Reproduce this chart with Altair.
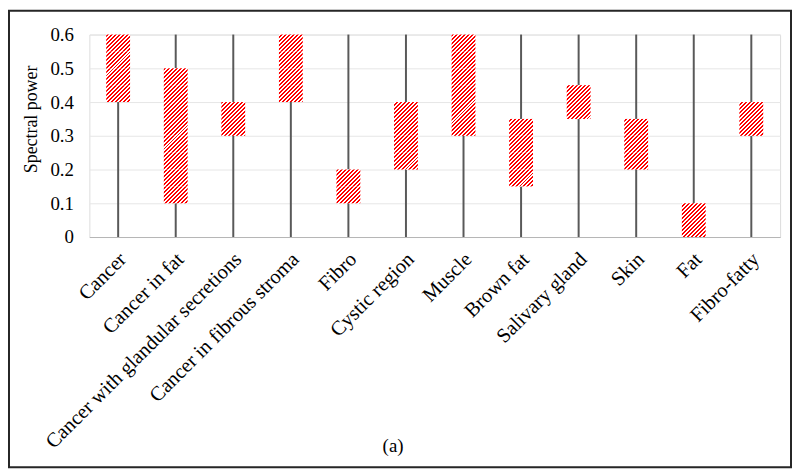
import altair as alt
import pandas as pd

categories = ["Cancer", "Cancer in fat", "Cancer with glandular secretions",
              "Cancer in fibrous stroma", "Fibro", "Cystic region", "Muscle",
              "Brown fat", "Salivary gland", "Skin", "Fat", "Fibro-fatty"]
box_low = [0.40, 0.10, 0.30, 0.40, 0.10, 0.20, 0.30, 0.15, 0.35, 0.20, 0.00, 0.30]
box_high = [0.60, 0.50, 0.40, 0.60, 0.20, 0.40, 0.60, 0.35, 0.45, 0.35, 0.10, 0.40]
line_low = [0, 0, 0, 0, 0, 0, 0, 0, 0, 0, 0, 0]
line_high = [0.6, 0.6, 0.6, 0.6, 0.6, 0.6, 0.6, 0.6, 0.6, 0.6, 0.6, 0.6]
y_ticks = [0, 0.1, 0.2, 0.3, 0.4, 0.5, 0.6]
caption = "(a)"

df = pd.DataFrame({"category": categories, "low": box_low, "high": box_high,
                   "lmin": line_low, "lmax": line_high})

PAD_L, PAD_T = 82, 25
W, H = 696, 204          # 58 px per category, 34 px per 0.1
YMAX = 0.6
BAR_W = 24
RED = "#ff0000"
FONT = "Liberation Serif"
STEP = W / len(categories)

# the hatch fill is painted in short pieces of each box, each with few stripes
SEG = 0.05
seg_rows = []
for i, (c, lo, hi) in enumerate(zip(categories, box_low, box_high)):
    n = int(round((hi - lo) / SEG))
    for j in range(n):
        s0 = round(lo + j * SEG, 4)
        seg_rows.append({"sid": len(seg_rows), "idx": i, "category": c, "s0": s0,
                         "s1": round(s0 + SEG, 4)})
seg_df = pd.DataFrame(seg_rows)


def hatch(h_px, g, w_px=BAR_W, p=4.0, frac=0.5):
    """'/' stripes of period p; g is the x+y offset of the piece's top-left corner."""
    total = w_px + h_px
    q = g % p
    bounds = []
    k = -1
    while k * p - q < total + p:
        r = k * p - q
        for pos, col in ((r, RED), (r + frac * p, "#ffffff")):
            if 0 < pos < total:
                bounds.append((pos, col))
        k += 1
    bounds.sort()
    c0 = RED if q < frac * p else "#ffffff"
    stops = [alt.GradientStop(offset=0, color=c0)]
    cur = c0
    for pos, col in bounds:
        off = round(pos / total, 6)
        stops.append(alt.GradientStop(offset=off, color=cur))
        stops.append(alt.GradientStop(offset=off, color=col))
        cur = col
    stops.append(alt.GradientStop(offset=1, color=cur))
    s = total / (w_px ** 2 + h_px ** 2)
    return alt.LinearGradient(gradient="linear", stops=stops,
                              x1=0, y1=0, x2=round(w_px * s, 6), y2=round(h_px * s, 6))


x_enc = alt.X("category:N", sort=categories,
              scale=alt.Scale(domain=categories, paddingInner=0, paddingOuter=0),
              axis=alt.Axis(title=None, labelAngle=-45, ticks=False,
                            domainColor="#b4b4b4", domainWidth=1,
                            labelFont=FONT, labelFontSize=20.5, labelColor="#000000",
                            labelPadding=12, labelOffset=-2, labelFlush=False,
                            labelLimit=0))
y_scale = alt.Scale(domain=[0, YMAX], nice=False, zero=True)
y_axis = alt.Axis(title="Spectral power", values=y_ticks, format=".1~f",
                  domain=False, ticks=False, grid=True, gridColor="#e6e6e6",
                  gridWidth=1, labelFont=FONT, labelFontSize=19,
                  labelColor="#000000", labelPadding=16,
                  titleFont=FONT, titleFontSize=18, titleFontWeight="normal",
                  titleColor="#000000", titleAngle=270, titleX=-58, titleY=85,
                  titleAlign="center", titleBaseline="middle")

lines = alt.Chart(df).mark_rule(color="#595959", strokeWidth=2).encode(
    x=x_enc,
    y=alt.Y("lmin:Q", scale=y_scale, axis=y_axis),
    y2="lmax:Q",
)

under = alt.Chart(df).mark_bar(size=BAR_W, color="#ffffff", strokeWidth=0).encode(
    x=x_enc, y=alt.Y("low:Q", scale=y_scale, axis=y_axis), y2="high:Q"
)

layers = [lines, under]
seg_px = SEG / YMAX * H
for row in seg_rows:
    x_left = PAD_L + STEP * (row["idx"] + 0.5) - BAR_W / 2
    y_top = PAD_T + (YMAX - row["s1"]) / YMAX * H
    layers.append(
        alt.Chart(seg_df).transform_filter(alt.datum.sid == row["sid"])
        .mark_bar(size=BAR_W, fill=hatch(seg_px, x_left + y_top - 0.5), strokeWidth=0)
        .encode(x=x_enc, y=alt.Y("s0:Q", scale=y_scale, axis=y_axis), y2="s1:Q")
    )

frame = alt.Chart(pd.DataFrame({"k": [0]})).mark_rect(
    filled=False, stroke="#262626", strokeWidth=2
).encode(x=alt.value(-81), x2=alt.value(707), y=alt.value(-24), y2=alt.value(436))
layers.append(frame)

cap = alt.Chart(pd.DataFrame({"t": [caption]})).mark_text(
    font=FONT, fontSize=19, color="#000000", align="center", baseline="middle"
).encode(text="t:N", x=alt.value(306), y=alt.value(415))
layers.append(cap)

chart = alt.layer(*layers).properties(
    width=W, height=H,
    padding={"left": PAD_L, "top": PAD_T, "right": 12, "bottom": 235},
    autosize=alt.AutoSizeParams(type="none"),
).configure_view(stroke=None).configure(background="#ffffff")

chart.save("out.html", embed_options={"renderer": "svg", "actions": False})
